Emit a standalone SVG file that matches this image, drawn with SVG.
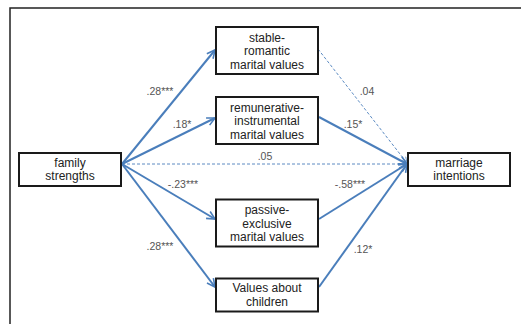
<svg xmlns="http://www.w3.org/2000/svg" width="521" height="324" viewBox="0 0 521 324">
<defs>
<marker id="arr" viewBox="0 0 10 10" refX="9" refY="5" markerWidth="5" markerHeight="5" markerUnits="strokeWidth" orient="auto">
<path d="M1,1 L9,5 L1,9" fill="none" stroke="#4A7EBB" stroke-width="1.6"/>
</marker>
<marker id="arrd" viewBox="0 0 10 10" refX="9" refY="5" markerWidth="8" markerHeight="8" markerUnits="strokeWidth" orient="auto">
<path d="M1,1 L9,5 L1,9" fill="none" stroke="#4A7EBB" stroke-width="1"/>
</marker>
</defs>
<style>
.box{fill:#fff;stroke:#1a1a1a;stroke-width:2}
.t{font-family:"Liberation Sans",Arial,sans-serif;font-size:12px;fill:#222;text-anchor:middle}
.c{fill:none;stroke:#4A7EBB;stroke-width:2;marker-end:url(#arr)}
.d{fill:none;stroke:#4A7EBB;stroke-width:0.9;stroke-dasharray:3,2;marker-end:url(#arrd)}
.l{font-family:"Liberation Sans",Arial,sans-serif;font-size:10.5px;fill:#555;text-anchor:middle}
</style>
<rect width="521" height="324" fill="#fff"/>
<path d="M10,324 L10,8 L521,8" fill="none" stroke="#222" stroke-width="1.5"/>
<g id="connectors">
<line class="d" x1="318" y1="49" x2="407" y2="163"/>
<line class="d" x1="122" y1="164" x2="407" y2="164"/>
<line class="c" x1="122" y1="164" x2="215" y2="50"/>
<line class="c" x1="122" y1="164" x2="215" y2="118"/>
<line class="c" x1="122" y1="164" x2="215" y2="219"/>
<line class="c" x1="122" y1="164" x2="215" y2="287"/>
<line class="c" x1="319" y1="117" x2="407" y2="164"/>
<line class="c" x1="319" y1="219" x2="407" y2="164"/>
<line class="c" x1="319" y1="287" x2="407" y2="164"/>
</g>
<g id="labels">
<text class="l" x="160" y="95">.28***</text>
<text class="l" x="182" y="128">.18*</text>
<text class="l" x="265" y="160">.05</text>
<text class="l" x="183" y="188">-.23***</text>
<text class="l" x="160" y="250">.28***</text>
<text class="l" x="367" y="95">.04</text>
<text class="l" x="353" y="128">.15*</text>
<text class="l" x="350" y="188">-.58***</text>
<text class="l" x="363" y="253">.12*</text>
</g>
<g id="family">
<rect class="box" x="19" y="153" width="102" height="33"/>
<text class="t" x="70" y="166.5">family</text>
<text class="t" x="70" y="180">strengths</text>
</g>
<g id="stable">
<rect class="box" x="216" y="27" width="102" height="47"/>
<text class="t" x="267" y="41.5">stable-</text>
<text class="t" x="267" y="55">romantic</text>
<text class="t" x="267" y="68.5">marital values</text>
</g>
<g id="remunerative">
<rect class="box" x="216" y="97" width="102" height="47"/>
<text class="t" x="267" y="111.5">remunerative-</text>
<text class="t" x="267" y="125">instrumental</text>
<text class="t" x="267" y="138.5">marital values</text>
</g>
<g id="passive">
<rect class="box" x="216" y="199.5" width="102" height="47"/>
<text class="t" x="267" y="214">passive-</text>
<text class="t" x="267" y="227.5">exclusive</text>
<text class="t" x="267" y="241">marital values</text>
</g>
<g id="children">
<rect class="box" x="216" y="278.5" width="102" height="33"/>
<text class="t" x="267" y="292">Values about</text>
<text class="t" x="267" y="306">children</text>
</g>
<g id="marriage">
<rect class="box" x="408" y="153" width="102" height="33"/>
<text class="t" x="459" y="166.5">marriage</text>
<text class="t" x="459" y="180">intentions</text>
</g>
</svg>
